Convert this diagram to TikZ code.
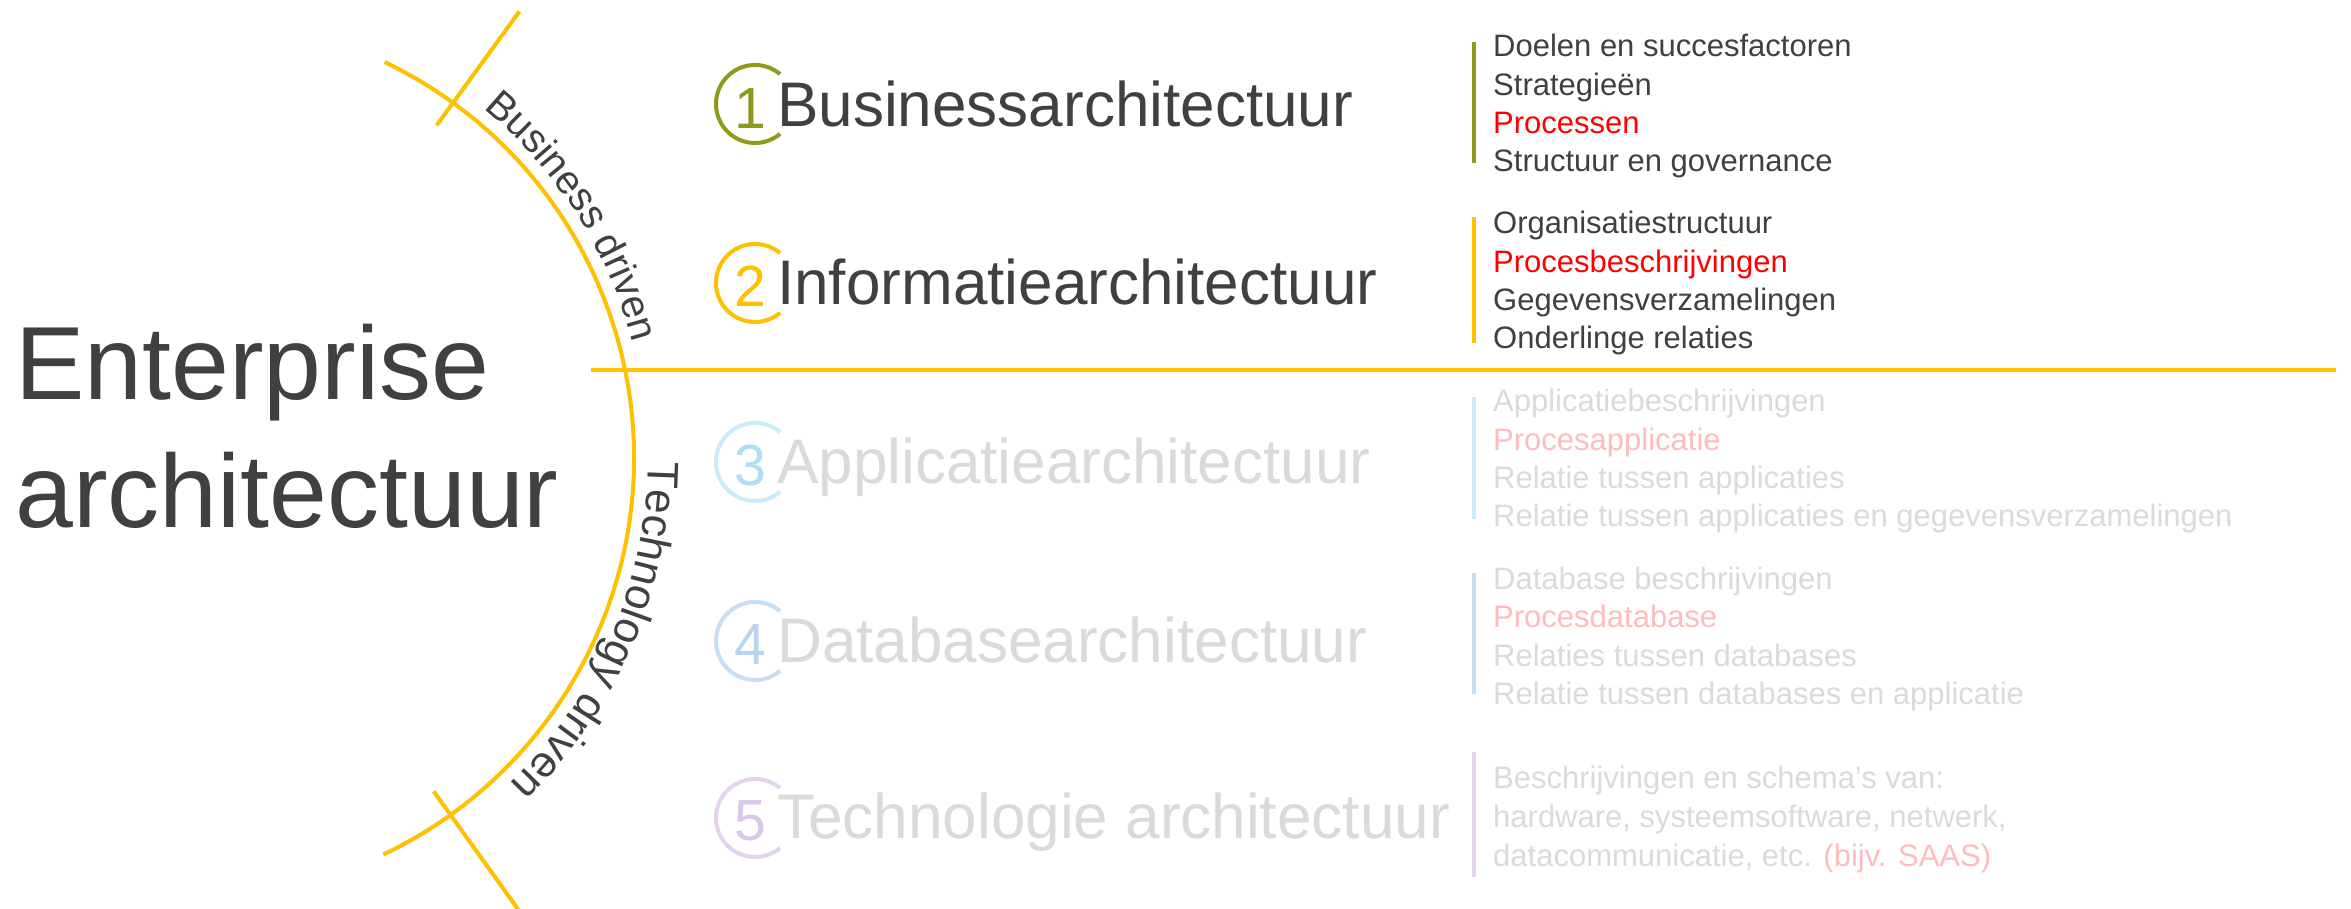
\documentclass[tikz,border=0pt]{standalone}
\usepackage{fontspec}
\setmainfont{Liberation Sans}
\newfontfamily\bigf{Liberation Sans}
\newfontfamily\titf{Liberation Sans}[FakeStretch=0.985]
\usetikzlibrary{calc,decorations.text}
\definecolor{txt}{RGB}{64,64,64}
\definecolor{gold}{RGB}{255,192,0}
\definecolor{olivec}{RGB}{143,153,28}
\definecolor{fade}{RGB}{218,218,218}
\definecolor{fadered}{RGB}{255,188,188}
\definecolor{procred}{RGB}{255,0,0}
\definecolor{ringc}{RGB}{200,236,250}
\definecolor{digc}{RGB}{172,222,245}
\definecolor{ringd}{RGB}{200,222,242}
\definecolor{digd}{RGB}{185,212,238}
\definecolor{ringe}{RGB}{226,212,238}
\definecolor{dige}{RGB}{218,200,235}
\tikzset{
  bigtext/.style={anchor=base west, inner sep=0, text=txt, font=\bigf\fontsize{104}{125}\selectfont},
  titletext/.style={anchor=base west, inner sep=0, font=\titf\fontsize{63}{76}\selectfont},
  digittext/.style={anchor=base, inner sep=0, font=\titf\fontsize{58}{70}\selectfont},
  itemtext/.style={anchor=base west, inner sep=0, font=\fontsize{31}{38}\selectfont},
  ringline/.style={line width=4},
  barline/.style={line width=4.5},
  goldline/.style={draw=gold, line width=4},
}
\begin{document}
\begin{tikzpicture}[x=1pt,y=1pt]
\useasboundingbox (0,0) rectangle (2351,909);
\fill[white] (0,0) rectangle (2351,909);

% big arc
\coordinate (C) at (195,451);
\draw[goldline] ($(C)+(64.4:439)$) arc[start angle=64.4, end angle=-64.6, radius=439];
\coordinate (tk1a) at ($(C)+(54:411)$);
\coordinate (tk1b) at ($(C)+(54:552)$);
\coordinate (tk2a) at ($(C)+(-54.4:410)$);
\coordinate (tk2b) at ($(C)+(-54.4:560)$);
\draw[goldline] (tk1a) -- (tk1b);
\draw[goldline] (tk2a) -- (tk2b);
\coordinate (hl0) at (591,539);
\coordinate (hl1) at (2336,539);
\draw[goldline] (hl0) -- (hl1);

% arc labels
\path[decorate, decoration={text along path, text color=txt,
  text={|\fontsize{40}{48}\selectfont|Business driven}}]
  ($(C)+(50.5:453)$) arc[start angle=50.5, end angle=5, radius=453];
\path[decorate, decoration={text along path, text color=txt,
  text={|\fontsize{44}{52}\selectfont|Technology driven}}]
  ($(C)+(-0.5:453)$) arc[start angle=-0.5, end angle=-70, radius=453];

% main title
\node[bigtext] (ent) at (15,509) {Enterprise};
\node[bigtext] (arch) at (15,381) {architectuur};

% rows: rings
\coordinate (c1) at (755,805);
\coordinate (c2) at (755,626);
\coordinate (c3) at (755,447);
\coordinate (c4) at (755,268);
\coordinate (c5) at (755,91);
\draw[ringline, olivec] ($(c1)+(50:39)$) arc[start angle=50, end angle=310, radius=39];
\draw[ringline, gold]   ($(c2)+(50:39)$) arc[start angle=50, end angle=310, radius=39];
\draw[ringline, ringc]  ($(c3)+(50:39)$) arc[start angle=50, end angle=310, radius=39];
\draw[ringline, ringd]  ($(c4)+(50:39)$) arc[start angle=50, end angle=310, radius=39];
\draw[ringline, ringe]  ($(c5)+(50:39)$) arc[start angle=50, end angle=310, radius=39];

\node[digittext, text=olivec] (d1) at (750,780) {1};
\node[digittext, text=gold]   (d2) at (750,602) {2};
\node[digittext, text=digc]   (d3) at (750,423) {3};
\node[digittext, text=digd]   (d4) at (750,244) {4};
\node[digittext, text=dige]   (d5) at (750,68) {5};

\node[titletext, text=txt]  (t1) at (777,782) {Businessarchitectuur};
\node[titletext, text=txt]  (t2) at (777,604) {Informatiearchitectuur};
\node[titletext, text=fade] (t3) at (777,425) {Applicatiearchitectuur};
\node[titletext, text=fade] (t4) at (777,246) {Databasearchitectuur};
\node[titletext, text=fade] (t5) at (777,70)  {Technologie architectuur};

% bars
\coordinate (b1a) at (1474,867); \coordinate (b1b) at (1474,746);
\coordinate (b2a) at (1474,692); \coordinate (b2b) at (1474,566);
\coordinate (b3a) at (1474,512); \coordinate (b3b) at (1474,390);
\coordinate (b4a) at (1474,336); \coordinate (b4b) at (1474,215);
\coordinate (b5a) at (1474,157); \coordinate (b5b) at (1474,32);
\draw[barline, olivec] (b1a) -- (b1b);
\draw[barline, gold]   (b2a) -- (b2b);
\draw[barline, ringc]  (b3a) -- (b3b);
\draw[barline, ringd]  (b4a) -- (b4b);
\draw[barline, ringe]  (b5a) -- (b5b);

% group 1
\node[itemtext, text=txt]     (g1a) at (1493,852)   {Doelen en succesfactoren};
\node[itemtext, text=txt]     (g1b) at (1493,813.7) {Strategieën};
\node[itemtext, text=procred] (g1c) at (1493,775.4) {Processen};
\node[itemtext, text=txt]     (g1d) at (1493,737.1) {Structuur en governance};
% group 2
\node[itemtext, text=txt]     (g2a) at (1493,675)   {Organisatiestructuur};
\node[itemtext, text=procred] (g2b) at (1493,636.7) {Procesbeschrijvingen};
\node[itemtext, text=txt]     (g2c) at (1493,598.4) {Gegevensverzamelingen};
\node[itemtext, text=txt]     (g2d) at (1493,560.1) {Onderlinge relaties};
% group 3
\node[itemtext, text=fade]    (g3a) at (1493,497)   {Applicatiebeschrijvingen};
\node[itemtext, text=fadered] (g3b) at (1493,458.7) {Procesapplicatie};
\node[itemtext, text=fade]    (g3c) at (1493,420.4) {Relatie tussen applicaties};
\node[itemtext, text=fade]    (g3d) at (1493,382.1) {Relatie tussen applicaties en gegevensverzamelingen};
% group 4
\node[itemtext, text=fade]    (g4a) at (1493,319.5) {Database beschrijvingen};
\node[itemtext, text=fadered] (g4b) at (1493,281.2) {Procesdatabase};
\node[itemtext, text=fade]    (g4c) at (1493,242.9) {Relaties tussen databases};
\node[itemtext, text=fade]    (g4d) at (1493,204.6) {Relatie tussen databases en applicatie};
% group 5
\node[itemtext, text=fade]    (g5a) at (1493,120)   {Beschrijvingen en schema’s van:};
\node[itemtext, text=fade]    (g5b) at (1493,81.5)  {hardware, systeemsoftware, netwerk,};
\node[itemtext, text=fade]    (g5c) at (1493,42)    {datacommunicatie, etc. \textcolor{fadered}{(bijv. SAAS)}};
\end{tikzpicture}
\end{document}
